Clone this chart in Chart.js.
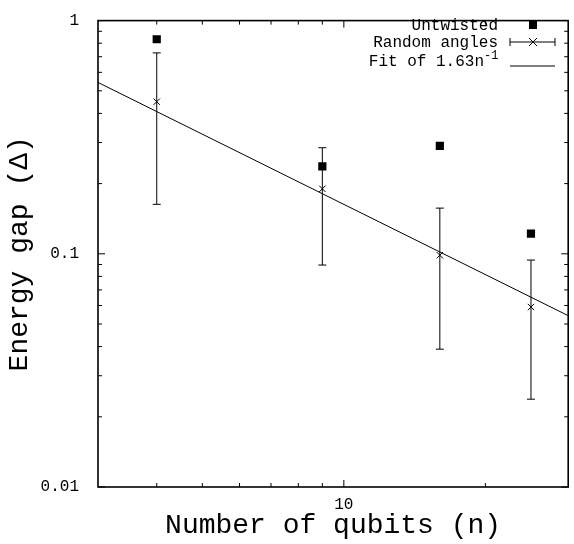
<!DOCTYPE html>
<html>
<head>
<meta charset="utf-8">
<script src="https://cdn.jsdelivr.net/npm/chart.js@4.4.1/dist/chart.umd.min.js"></script>
<style>
  html, body { margin: 0; padding: 0; background: #fff; }
  #wrap { width: 574px; height: 544px; }
</style>
</head>
<body>
<div id="wrap"><canvas id="chart" width="574" height="544"></canvas></div>
<script>
const qubits = [4, 9, 16, 25];
const untwisted = [0.832, 0.237, 0.29, 0.122];
const randomMean = [0.449, 0.19, 0.0986, 0.0591];
const randomHigh = [0.727, 0.285, 0.157, 0.094];
const randomLow = [0.163, 0.0895, 0.039, 0.0238];
const fitX = [3, 30];
const fitY = [0.543, 0.0543];

const xMajorTicks = [10];
const xMinorTicks = [4, 5, 6, 7, 8, 9, 20];
const yMajorTicks = [0.01, 0.1, 1];
const yMinorTicks = [0.02, 0.03, 0.04, 0.05, 0.06, 0.07, 0.08, 0.09,
                     0.2, 0.3, 0.4, 0.5, 0.6, 0.7, 0.8, 0.9];

const MONO = "'Liberation Mono', 'DejaVu Sans Mono', monospace";

function toPoints(xs, ys) {
  return xs.map((x, i) => ({ x, y: ys[i] }));
}

// inward ticks on all four sides, the frame, error bars and the legend
const gnuplotLook = {
  id: "gnuplotLook",
  afterDatasetsDraw(chart) {
    const { ctx, scales: { x, y } } = chart;
    ctx.save();
    ctx.strokeStyle = "#000";
    ctx.lineWidth = 1;
    ctx.beginPath();
    qubits.forEach((n, i) => {
      const px = x.getPixelForValue(n);
      const hi = y.getPixelForValue(randomHigh[i]);
      const lo = y.getPixelForValue(randomLow[i]);
      ctx.moveTo(px, hi); ctx.lineTo(px, lo);
      ctx.moveTo(px - 4, hi); ctx.lineTo(px + 4, hi);
      ctx.moveTo(px - 4, lo); ctx.lineTo(px + 4, lo);
    });
    ctx.stroke();
    ctx.restore();
  },
  afterDraw(chart) {
    const { ctx, chartArea: a, scales: { x, y } } = chart;
    ctx.save();
    ctx.strokeStyle = "#000";

    ctx.lineWidth = 1;
    ctx.beginPath();
    const xt = (v, len) => {
      const px = x.getPixelForValue(v);
      ctx.moveTo(px, a.bottom); ctx.lineTo(px, a.bottom - len);
      ctx.moveTo(px, a.top); ctx.lineTo(px, a.top + len);
    };
    const yt = (v, len) => {
      const py = y.getPixelForValue(v);
      ctx.moveTo(a.left, py); ctx.lineTo(a.left + len, py);
      ctx.moveTo(a.right, py); ctx.lineTo(a.right - len, py);
    };
    xMajorTicks.forEach(v => xt(v, 7));
    xMinorTicks.forEach(v => xt(v, 4));
    yMajorTicks.forEach(v => yt(v, 7));
    yMinorTicks.forEach(v => yt(v, 4));
    ctx.stroke();

    ctx.lineWidth = 1.6;
    ctx.strokeRect(a.left, a.top, a.right - a.left, a.bottom - a.top);

    // legend
    ctx.fillStyle = "#000";
    ctx.font = "16px " + MONO;
    ctx.textAlign = "right";
    ctx.textBaseline = "middle";
    ctx.fillText("Untwisted", 498, 26);
    ctx.fillText("Random angles", 498, 43);
    ctx.fillText("Fit of 1.63n", 484, 62);
    ctx.font = "12px " + MONO;
    ctx.textAlign = "left";
    ctx.fillText("-1", 484, 56);

    ctx.fillRect(529, 21, 8, 8);

    ctx.lineWidth = 1;
    ctx.beginPath();
    ctx.moveTo(510, 42); ctx.lineTo(555, 42);
    ctx.moveTo(510, 38); ctx.lineTo(510, 46);
    ctx.moveTo(555, 38); ctx.lineTo(555, 46);
    ctx.moveTo(529, 38); ctx.lineTo(537, 46);
    ctx.moveTo(537, 38); ctx.lineTo(529, 46);
    ctx.moveTo(510, 66); ctx.lineTo(555, 66);
    ctx.stroke();
    ctx.restore();
  }
};

new Chart(document.getElementById("chart"), {
  type: "scatter",
  data: {
    datasets: [
      {
        label: "Untwisted",
        data: toPoints(qubits, untwisted),
        pointStyle: "rect",
        pointRadius: 5.8,
        backgroundColor: "#000",
        borderWidth: 0
      },
      {
        label: "Random angles",
        data: toPoints(qubits, randomMean),
        pointStyle: "crossRot",
        pointRadius: 4.5,
        borderColor: "#000",
        borderWidth: 1
      },
      {
        label: "Fit",
        data: toPoints(fitX, fitY),
        showLine: true,
        pointRadius: 0,
        borderColor: "#000",
        borderWidth: 1
      }
    ]
  },
  options: {
    responsive: false,
    animation: false,
    layout: { padding: { top: 10, right: 1, left: 0, bottom: 0 } },
    plugins: { legend: { display: false }, tooltip: { enabled: false } },
    scales: {
      x: {
        type: "logarithmic",
        min: 3,
        max: 30,
        grid: { display: false },
        border: { display: false },
        afterBuildTicks: (axis) => { axis.ticks = xMajorTicks.map(v => ({ value: v })); },
        afterFit: (axis) => { axis.height = 57; },
        ticks: {
          autoSkip: false,
          maxRotation: 0,
          padding: 2,
          color: "#000",
          font: { family: MONO, size: 16, lineHeight: 1 },
          callback: (v) => String(v)
        },
        title: {
          display: true,
          text: "Number of qubits (n)",
          color: "#000",
          font: { family: MONO, size: 28, lineHeight: 1 },
          padding: { top: 0, bottom: 4 }
        }
      },
      y: {
        type: "logarithmic",
        min: 0.01,
        max: 1,
        grid: { display: false },
        border: { display: false },
        afterBuildTicks: (axis) => { axis.ticks = yMajorTicks.map(v => ({ value: v })); },
        afterFit: (axis) => { axis.width = 98; },
        ticks: {
          autoSkip: false,
          padding: 11,
          color: "#000",
          font: { family: MONO, size: 16 },
          callback: (v) => String(v)
        },
        title: {
          display: true,
          text: "Energy gap (\u0394)",
          color: "#000",
          font: { family: MONO, size: 28, lineHeight: 1 },
          padding: { top: 6, bottom: 0 }
        }
      }
    }
  },
  plugins: [gnuplotLook]
});
</script>
</body>
</html>
